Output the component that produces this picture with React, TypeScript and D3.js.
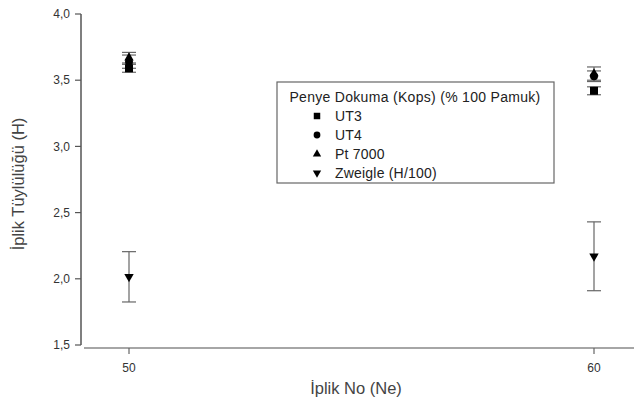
import React from "react";
import * as d3 from "d3";

const yarnCounts = [50, 60];
const seriesNames = ["UT3", "UT4", "Pt 7000", "Zweigle (H/100)"];
const seriesSymbols = [d3.symbolSquare, d3.symbolCircle, d3.symbolTriangle, d3.symbolTriangle];
// mean values per series, indexed by yarn count
const ut3 = [3.59, 3.42];
const ut4 = [3.64, 3.53];
const pt7000 = [3.67, 3.55];
const zweigle = [2.015, 2.17];
// standard deviations
const ut3Err = [0.03, 0.03];
const ut4Err = [0.05, 0.04];
const pt7000Err = [0.04, 0.05];
const zweigleErr = [0.19, 0.26];
const yTicks = [1.5, 2.0, 2.5, 3.0, 3.5, 4.0];
const legendTitle = "Penye Dokuma (Kops) (% 100 Pamuk)";

const W = 634;
const H = 405;
const font = "Liberation Sans, Arial, sans-serif";
const markerSize = [64, 50, 38, 38];
const legendSize = [42, 36, 30, 30];

export default function App() {
  const x = d3.scaleLinear().domain([50, 60]).range([129, 594]);
  const y = d3.scaleLinear().domain([1.5, 4.0]).range([345, 14]);

  const values = [ut3, ut4, pt7000, zweigle];
  const errs = [ut3Err, ut4Err, pt7000Err, zweigleErr];

  const sym = (i: number, size: number) => d3.symbol().type(seriesSymbols[i]).size(size)() as string;
  const rot = (i: number) => (i === 3 ? " rotate(180)" : "");

  return (
    <div style={{ position: "absolute", left: 0, top: 0 }}>
      <svg width={W} height={H} style={{ display: "block", background: "#fff" }} fontFamily={font}>
        {/* y axis */}
        <line x1={81} x2={81} y1={y(4.0)} y2={y(1.5)} stroke="#555" strokeWidth={1.5} />
        {yTicks.map((t) => (
          <g key={t} transform={`translate(0,${y(t)})`}>
            <line x1={75} x2={81} stroke="#555" strokeWidth={1.2} />
            <text x={70} dy="0.35em" textAnchor="end" fontSize={12} fill="#333">
              {d3.format(".1f")(t).replace(".", ",")}
            </text>
          </g>
        ))}
        {/* x axis */}
        <line x1={84} x2={634} y1={348} y2={348} stroke="#888" strokeWidth={1.5} />
        {yarnCounts.map((c) => (
          <g key={c} transform={`translate(${x(c)},348)`}>
            <line y1={0} y2={6} stroke="#666" strokeWidth={1.2} />
            <text y={24} textAnchor="middle" fontSize={12} fill="#333">{c}</text>
          </g>
        ))}
        <text x={356} y={394} textAnchor="middle" fontSize={16.5} fill="#444">İplik No (Ne)</text>
        <text transform={`translate(24,184) rotate(-90)`} textAnchor="middle" fontSize={16.5} fill="#444">
          İplik Tüylülüğü (H)
        </text>

        {/* error bars */}
        {values.map((vals, i) =>
          vals.map((v, j) => {
            const cx = x(yarnCounts[j]);
            const lo = y(v - errs[i][j]);
            const hi = y(v + errs[i][j]);
            return (
              <g key={`e${i}-${j}`} stroke="#666" strokeWidth={1.2}>
                <line x1={cx} x2={cx} y1={hi} y2={lo} />
                <line x1={cx - 7} x2={cx + 7} y1={hi} y2={hi} />
                <line x1={cx - 7} x2={cx + 7} y1={lo} y2={lo} />
              </g>
            );
          })
        )}
        {/* markers */}
        {values.map((vals, i) =>
          vals.map((v, j) => (
            <path
              key={`m${i}-${j}`}
              d={sym(i, markerSize[i])}
              transform={`translate(${x(yarnCounts[j])},${y(v)})${rot(i)}`}
              fill="#000"
            />
          ))
        )}

        {/* legend */}
        <g transform="translate(277,82)">
          <rect width={277} height={101} fill="#fff" stroke="#666" strokeWidth={1.2} />
          <text x={138} y={20} textAnchor="middle" fontSize={14} letterSpacing={0.3} fill="#222">{legendTitle}</text>
          {seriesNames.map((n, i) => (
            <g key={n} transform={`translate(0,${39 + i * 19})`}>
              <path d={sym(i, legendSize[i])} transform={`translate(40,-5)${rot(i)}`} fill="#000" />
              <text x={58} y={0} fontSize={14} letterSpacing={0.2} fill="#222">{n}</text>
            </g>
          ))}
        </g>
      </svg>
    </div>
  );
}
